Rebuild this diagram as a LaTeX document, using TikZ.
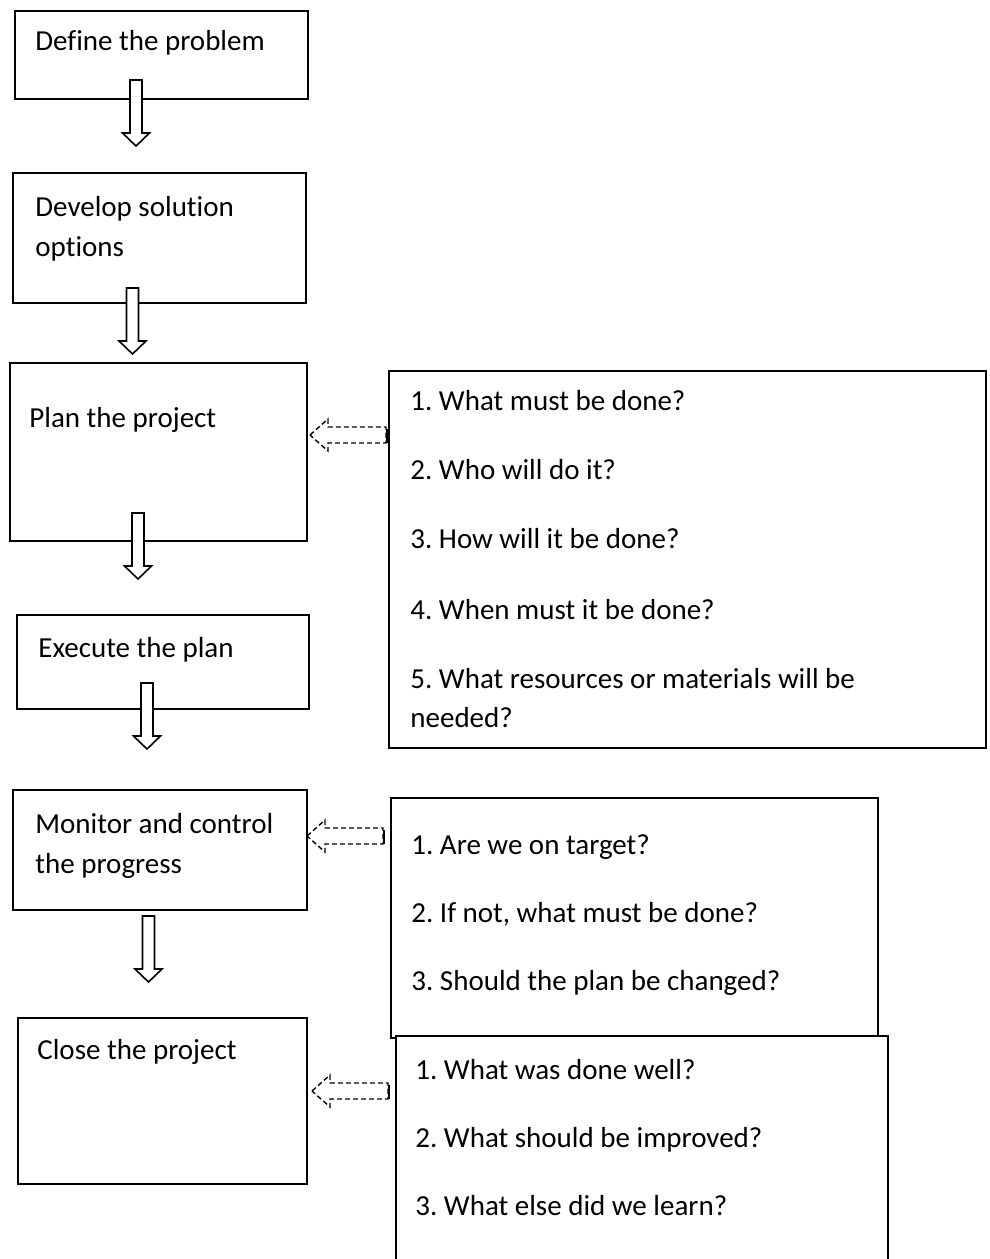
\documentclass[tikz,border=0pt]{standalone}
\usepackage{fontspec}
\setmainfont[Ligatures=NoCommon]{Carlito}
\frenchspacing
\tikzstyle{stage} = [draw, line width=1pt, fill=white, inner sep=0pt, anchor=north west]
\tikzstyle{words} = [anchor=base west, inner sep=0pt, font=\fontsize{14.5}{17}\selectfont]
\tikzstyle{hollow} = [draw, line width=0.8pt, fill=white, line join=miter]
\tikzstyle{dashback} = [draw, line width=0.7pt, dash pattern=on 2.5pt off 1.5pt]
\newcommand{\downblock}[2]{%
  \draw[hollow] (#1-6,#2) -- (#1+6,#2) -- (#1+6,#2+53) -- (#1+13.5,#2+53)
    -- (#1,#2+66) -- (#1-13.5,#2+53) -- (#1-6,#2+53) -- cycle;}
\newcommand{\backblock}[2]{%
  \draw[dashback] (#1,#2) -- (#1+18,#2-16) -- (#1+18,#2-8) -- (#1+76,#2-8)
    -- (#1+76,#2+8) -- (#1+18,#2+8) -- (#1+18,#2+16) -- cycle;
  \draw[line width=1.4pt] (#1+77,#2-6) -- (#1+77,#2+8);}
\begin{document}
\begin{tikzpicture}[x=0.5pt, y=-0.5pt]
\useasboundingbox (0,0) rectangle (990,1259);

\node[stage, minimum width=146.5pt, minimum height=44pt] (define) at (14,10) {};
\node[stage, minimum width=146.5pt, minimum height=65pt] (develop) at (12,172) {};
\node[stage, minimum width=148.5pt, minimum height=89pt] (plan) at (9,362) {};
\node[stage, minimum width=146pt, minimum height=47pt] (execute) at (16,614) {};
\node[stage, minimum width=147pt, minimum height=60pt] (monitor) at (12,789) {};
\node[stage, minimum width=144.5pt, minimum height=83pt] (close) at (17,1017) {};

\node[stage, minimum width=298.5pt, minimum height=188.5pt] (askplan) at (388,370) {};
\node[stage, minimum width=243.5pt, minimum height=120pt] (askmonitor) at (390,797) {};
\node[stage, minimum width=246pt, minimum height=130pt] (askclose) at (395,1035) {};

\node[words] (tdefine) at (35,50) {Define the problem};
\node[words] (tdevelop) at (35,216) {Develop solution};
\node[words] (tdevelopb) at (35,256) {options};
\node[words] (tplan) at (29,427) {Plan the project};
\node[words] (texecute) at (38,657) {Execute the plan};
\node[words] (tmonitor) at (35,833) {Monitor and control};
\node[words] (tmonitorb) at (35,873) {the progress};
\node[words] (tclose) at (37,1059) {Close the project};

\node[words] (pa) at (410,410) {1. What must be done?};
\node[words] (pb) at (410,479) {2. Who will do it?};
\node[words] (pc) at (410,548) {3. How will it be done?};
\node[words] (pd) at (410,619) {4. When must it be done?};
\node[words] (pe) at (410,688) {5. What resources or materials will be};
\node[words] (pf) at (410,727) {needed?};

\node[words] (ma) at (411,854) {1. Are we on target?};
\node[words] (mb) at (411,922) {2. If not, what must be done?};
\node[words] (mc) at (411,990) {3. Should the plan be changed?};

\node[words] (ca) at (415,1079) {1. What was done well?};
\node[words] (cb) at (415,1147) {2. What should be improved?};
\node[words] (cc) at (415,1215) {3. What else did we learn?};

\downblock{136}{80}
\downblock{132.5}{288}
\downblock{138}{513}
\downblock{147}{683}
\downblock{148.5}{916}

\backblock{310}{435}
\backblock{307}{836}
\backblock{312}{1091}
\end{tikzpicture}
\end{document}
